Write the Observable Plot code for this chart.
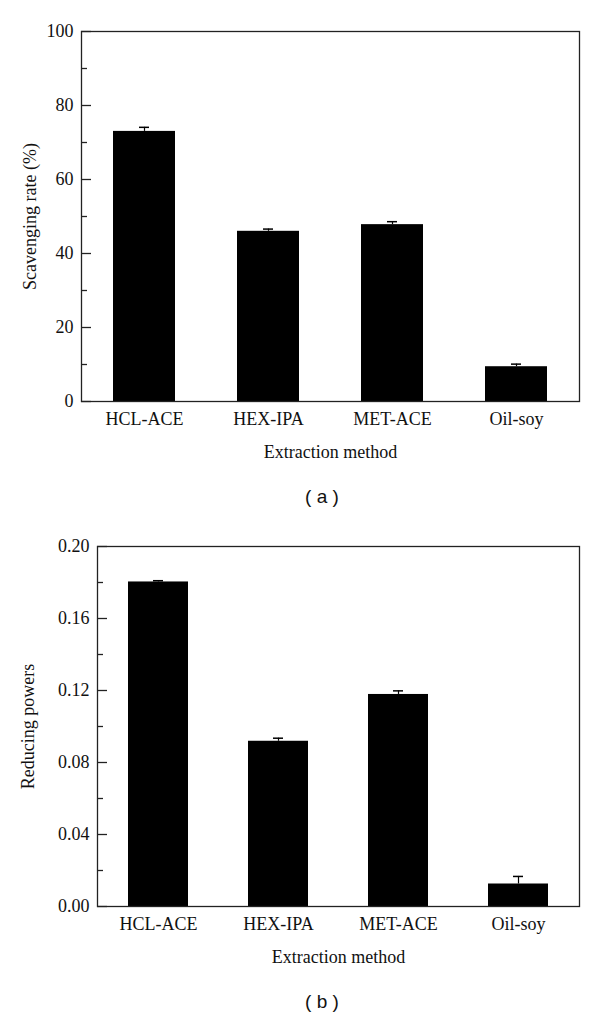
<!DOCTYPE html>
<html>
<head>
<meta charset="utf-8">
<script src="https://cdn.jsdelivr.net/npm/d3@7"></script>
<script src="https://cdn.jsdelivr.net/npm/@observablehq/plot@0.6"></script>
<style>
  body { margin: 0; background: #fff; width: 600px; height: 1017px; position: relative; overflow: hidden; }
  .panel { position: absolute; left: 0; }
  .cap { position: absolute; font-family: "Liberation Sans", Arial, sans-serif; font-size: 19px; color: #111; transform: translate(-50%, -50%); white-space: pre; }
</style>
</head>
<body>
<div class="panel" id="pa" style="top:0px"></div>
<div class="cap" style="left:322px; top:497px">( a )</div>
<div class="panel" id="pb" style="top:515px"></div>
<div class="cap" style="left:322px; top:1002px">( b )</div>
<script>
const methods = ["HCL-ACE", "HEX-IPA", "MET-ACE", "Oil-soy"];
const scavenging = [73.0, 46.0, 47.8, 9.4];
const scavengingErr = [1.1, 0.6, 0.8, 0.7];
const reducing = [0.1803, 0.0918, 0.1178, 0.0125];
const reducingErr = [0.0007, 0.0017, 0.002, 0.0042];
const scavMajor = [0, 20, 40, 60, 80, 100];
const scavMinor = [10, 30, 50, 70, 90];
const redMajor = [0, 0.04, 0.08, 0.12, 0.16, 0.20];
const redMinor = [0.02, 0.06, 0.10, 0.14, 0.18];

function panel(values, errs, opts) {
  const data = methods.map((m, i) => ({m, v: values[i], e: values[i] + errs[i]}));
  const fs = 18;
  return Plot.plot({
    width: 600,
    height: 470,
    marginTop: 31,
    marginBottom: opts.mb,
    marginLeft: opts.ml,
    marginRight: 21,
    style: {fontFamily: "'Liberation Serif', 'Times New Roman', serif", fontSize: "18px", color: "#111", background: "#fff"},
    x: {domain: methods, paddingInner: 0.5, paddingOuter: 0.25, label: null},
    y: {domain: opts.domain, label: null},
    marks: [
      Plot.barY(data, {x: "m", y: "v", fill: "#000"}),
      Plot.ruleX(data, {x: "m", y1: "v", y2: "e", stroke: "#000", strokeWidth: 1.2}),
      Plot.tickY(data, {x: "m", y: "e", stroke: "#000", strokeWidth: 1.5, insetLeft: opts.capInset, insetRight: opts.capInset}),
      Plot.frame({stroke: "#222", strokeWidth: 1.3}),
      Plot.axisY({ticks: opts.major, tickSize: 0, tickPadding: 8, tickFormat: opts.fmt, fontSize: fs, label: opts.ylabel, labelArrow: "none", labelAnchor: "center", labelOffset: opts.lo}),
      Plot.axisY({ticks: opts.major, tickSize: -10, text: null, label: null, stroke: "#222", strokeWidth: 1.3}),
      Plot.axisY({ticks: opts.minor, tickSize: -6, text: null, label: null, stroke: "#222", strokeWidth: 1.3}),
      Plot.axisX({tickSize: 0, tickPadding: 11, fontSize: fs, label: "Extraction method", labelAnchor: "center", labelOffset: 56})
    ]
  });
}

document.getElementById("pa").appendChild(panel(scavenging, scavengingErr, {
  mb: 69, ml: 81, lo: 58, domain: [0, 100], major: scavMajor, minor: scavMinor,
  fmt: d3.format("d"), ylabel: "Scavenging rate (%)", capInset: 26
}));
document.getElementById("pb").appendChild(panel(reducing, reducingErr, {
  mb: 79, ml: 97, lo: 76, domain: [0, 0.2], major: redMajor, minor: redMinor,
  fmt: d3.format(".2f"), ylabel: "Reducing powers", capInset: 25
}));
</script>
</body>
</html>
